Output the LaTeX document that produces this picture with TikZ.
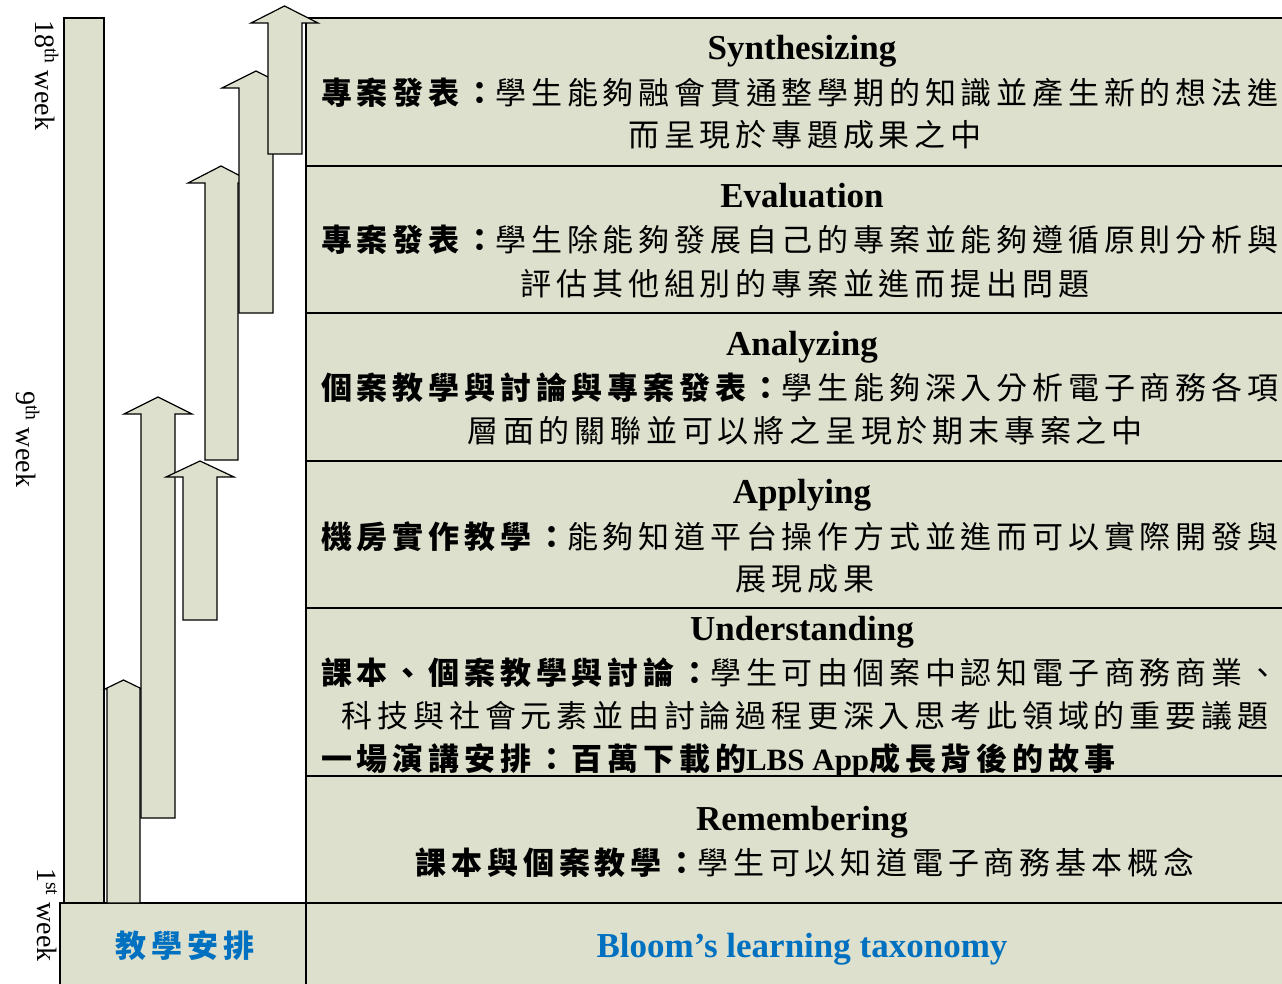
\documentclass[tikz,border=0pt]{standalone}
\usepackage{fontspec}
\setmainfont{Liberation Serif}
\newfontfamily\cjk[LetterSpace=15.5]{Noto Sans CJK TC}
\definecolor{boxfill}{RGB}{221,224,204}
\definecolor{bloomblue}{RGB}{0,112,192}
\newcommand{\blockarrow}[7]{%
  \draw[bar] (#1,#3) -- (#1,#4) -- (#6,#4) -- ({(#6+#7)/2},#5) -- (#7,#4) -- (#2,#4) -- (#2,#3) -- cycle;}
\begin{document}
\begin{tikzpicture}[x=1pt,y=-1pt,
  bar/.style={draw=black, fill=boxfill, line width=1.2pt},
  rowbox/.style={draw=black, fill=boxfill, line width=1.2pt, minimum width=992pt, inner sep=0pt, outer sep=0pt},
  title/.style={font=\fontsize{35}{40}\selectfont\bfseries, anchor=base, inner sep=0pt},
  cjkline/.style={font=\cjk\fontsize{31}{36}\selectfont, anchor=base, inner sep=0pt},
  cjkleft/.style={cjkline, anchor=base west},
  weeklabel/.style={font=\fontsize{28}{32}\selectfont, rotate=-90, anchor=west, inner sep=0pt}]
\useasboundingbox (0,0) rectangle (1282,984);
\clip (0,0) rectangle (1282,984);

% right panel rows
\node[rowbox, minimum height=148pt] (rsyn) at (802,92) {};
\node[rowbox, minimum height=147pt] (reva) at (802,239.5) {};
\node[rowbox, minimum height=148pt] (rana) at (802,387) {};
\node[rowbox, minimum height=147pt] (rapp) at (802,534.5) {};
\node[rowbox, minimum height=168pt] (rund) at (802,692) {};
\node[rowbox, minimum height=127pt] (rrem) at (802,839.5) {};
\node[rowbox, minimum height=92pt] (rblo) at (802,949) {};

% bottom-left box
\node[draw=black, fill=boxfill, line width=1.2pt, minimum width=246pt, minimum height=92pt, inner sep=0pt] (plan) at (183,949) {};
\node[font=\cjk\fontsize{31}{36}\selectfont\bfseries, text=bloomblue, anchor=base, inner sep=0pt] (plantxt) at (185,957) {教學安排};

% tall bar
\draw[bar] (64,18) rectangle (104,903);

% block arrows: left, right, bottom, headbase, tip, headleft, headright
\blockarrow{107}{140}{903}{689}{680}{105}{142}
\blockarrow{141}{175}{818}{414}{397}{124}{192}
\blockarrow{183}{217}{620}{477}{461}{166}{234}
\blockarrow{205}{238}{460}{183}{166}{188}{254}
\blockarrow{239}{273}{313}{88}{71}{222}{290}
\blockarrow{268}{302}{154}{23}{6}{251}{318}

% week labels
\node[weeklabel] (w18) at (47,20) {18\textsuperscript{th} week};
\node[weeklabel] (w9) at (28,391) {9\textsuperscript{th} week};
\node[weeklabel] (w1) at (47,868) {1\textsuperscript{st} week};

% texts
\node[title] (tsyn) at (802,60) {Synthesizing};
\node[cjkleft] (syn1) at (321,105) {\bfseries 專案發表：\mdseries 學生能夠融會貫通整學期的知識並產生新的想法進};
\node[cjkline] (syn2) at (805,147) {而呈現於專題成果之中};

\node[title] (teva) at (802,208) {Evaluation};
\node[cjkleft] (eva1) at (321,252) {\bfseries 專案發表：\mdseries 學生除能夠發展自己的專案並能夠遵循原則分析與};
\node[cjkline] (eva2) at (805,295) {評估其他組別的專案並進而提出問題};

\node[title] (tana) at (802,355) {Analyzing};
\node[cjkleft] (ana1) at (321,399) {\bfseries 個案教學與討論與專案發表：\mdseries 學生能夠深入分析電子商務各項};
\node[cjkline] (ana2) at (805,442) {層面的關聯並可以將之呈現於期末專案之中};

\node[title] (tapp) at (802,503) {Applying};
\node[cjkleft] (app1) at (321,548) {\bfseries 機房實作教學：\mdseries 能夠知道平台操作方式並進而可以實際開發與};
\node[cjkline] (app2) at (805,590) {展現成果};

\node[title] (tund) at (802,640) {Understanding};
\node[cjkleft] (und1) at (321,684) {\bfseries 課本、個案教學與討論：\mdseries 學生可由個案中認知電子商務商業、};
\node[cjkline] (und2) at (805,727) {科技與社會元素並由討論過程更深入思考此領域的重要議題};
\node[cjkleft] (und3) at (321,770) {\bfseries 一場演講安排：百萬下載的{\rmfamily\bfseries LBS App}成長背後的故事};

\node[title] (trem) at (802,830) {Remembering};
\node[cjkline] (rem1) at (805,874) {\bfseries 課本與個案教學：\mdseries 學生可以知道電子商務基本概念};

\node[title, text=bloomblue] (tblo) at (802,957) {Bloom’s learning taxonomy};
\end{tikzpicture}
\end{document}
